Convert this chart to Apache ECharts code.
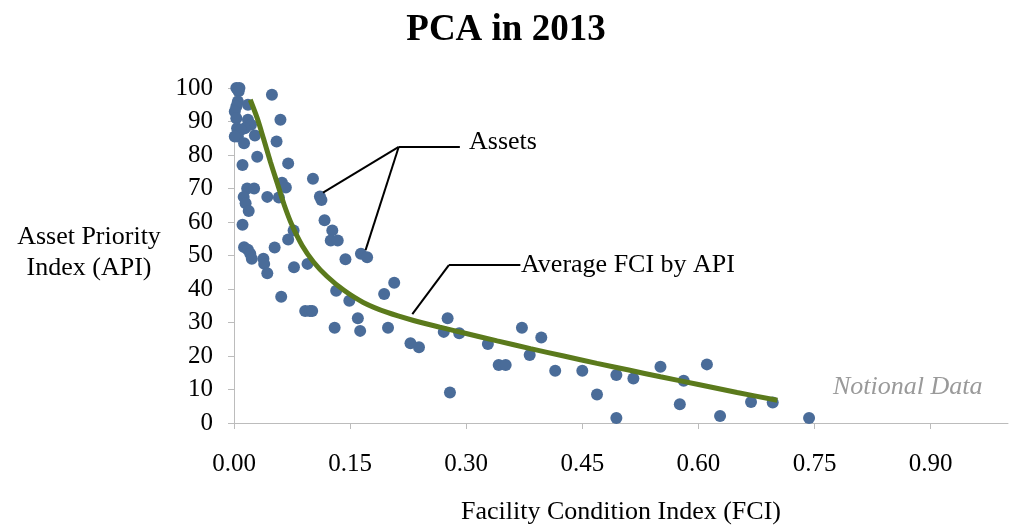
<!DOCTYPE html>
<html>
<head>
<meta charset="utf-8">
<title>PCA in 2013</title>
<script src="https://cdn.jsdelivr.net/npm/echarts@6/dist/echarts.min.js"></script>
<style>
    html, body { margin: 0; padding: 0; background: #fff; }
    #pca_chart { width: 1012px; height: 525px; }
</style>
</head>
<body>
<div id="pca_chart"></div>
<script>
// Chart data
// ------------------------------

// Assets: facility condition index (x) and asset priority index (y)
var assetFci = [
    0.003, 0.007, 0.006, 0.049, 0.005, 0.003, 0.018, 0.001, 0.003, 0.018,
    0.022, 0.014, 0.004, 0.009, 0.005, 0.027, 0.001, 0.013, 0.060, 0.055,
    0.030, 0.011, 0.070, 0.102, 0.111, 0.113, 0.062, 0.067, 0.043, 0.058,
    0.017, 0.026, 0.0125, 0.015, 0.019, 0.117, 0.127, 0.125, 0.134, 0.011,
    0.077, 0.070, 0.0525, 0.013, 0.018, 0.021, 0.023, 0.038, 0.039, 0.043,
    0.0775, 0.095, 0.061, 0.092, 0.098, 0.101, 0.130, 0.144, 0.164, 0.172,
    0.132, 0.149, 0.160, 0.163, 0.194, 0.207, 0.199, 0.228, 0.239, 0.276,
    0.271, 0.291, 0.279, 0.328, 0.342, 0.351, 0.372, 0.397, 0.382, 0.415,
    0.450, 0.469, 0.494, 0.516, 0.494, 0.551, 0.581, 0.611, 0.576, 0.628,
    0.668, 0.696, 0.743
];
var assetApi = [
    100, 100, 99, 98, 96, 94.5, 95, 93, 91, 90.5,
    89, 88, 88, 87.5, 85.5, 85.8, 85.5, 83.5, 90.5, 84,
    79.5, 77, 77.5, 72.9, 67.6, 66.6, 71.7, 70.3, 67.5, 67.3,
    70, 70, 67.5, 65.6, 63.3, 60.5, 57.5, 54.5, 54.5, 59.2,
    57.5, 54.8, 52.4, 52.5, 51.7, 50.5, 49, 49, 47.5, 44.7,
    46.5, 47.5, 37.7, 33.4, 33.4, 33.4, 28.4, 48.9, 50.5, 49.5,
    39.5, 36.5, 31.3, 27.5, 38.5, 41.9, 28.4, 23.8, 22.6, 31.3,
    27.2, 26.8, 9.1, 23.6, 17.3, 17.3, 28.4, 25.5, 20.3, 15.6,
    15.6, 8.5, 14.3, 13.3, 1.5, 16.8, 12.6, 17.5, 5.6, 2.1,
    6.3, 6.1, 1.5
];

// Average FCI by API (trend line)
var avgFci = [
    0.021, 0.030, 0.038, 0.047, 0.056, 0.065, 0.075, 0.088, 0.103, 0.120,
    0.142, 0.167, 0.198, 0.232, 0.266, 0.300, 0.340, 0.383, 0.426, 0.469,
    0.510, 0.551, 0.600, 0.650, 0.702
];
var avgApi = [
    96.5, 91.0, 85.0, 78.0, 71.5, 65.0, 59.0, 53.0, 48.0, 43.8,
    39.6, 36.0, 33.0, 30.6, 28.6, 26.7, 24.5, 22.2, 20.0, 17.8,
    15.8, 13.8, 11.5, 9.1, 6.8
];

// X axis tick values
var xTickValues = [0, 0.15, 0.30, 0.45, 0.60, 0.75, 0.90];


// Setup chart
// ------------------------------

var PcaScatter = function() {

    var _pcaChart = function() {
        if (typeof echarts == 'undefined') {
            console.warn('Warning - echarts.min.js is not loaded.');
            return;
        }

        var chart_element = document.getElementById('pca_chart');
        if (!chart_element) return;

        var chart = echarts.init(chart_element);

        var serif = '"Liberation Serif", "DejaVu Serif", serif';
        var axisGray = '#bcbcbc';

        var scatterData = assetFci.map(function(x, i) { return [x, assetApi[i]]; });
        var lineData = avgFci.map(function(x, i) { return [x, avgApi[i]]; });

        // Annotation arrows (elbow -> target)
        var arrowLines = [
            [{coord: [0.2128, 82.4], symbol: 'none'}, {coord: [0.2918, 82.4], symbol: 'none'}],
            [{coord: [0.2128, 82.4], symbol: 'none'}, {coord: [0.1150, 68.8]}],
            [{coord: [0.2128, 82.4], symbol: 'none'}, {coord: [0.1700, 51.6]}],
            [{coord: [0.2776, 47.1], symbol: 'none'}, {coord: [0.3700, 47.1], symbol: 'none'}],
            [{coord: [0.2776, 47.1], symbol: 'none'}, {coord: [0.2304, 32.5]}]
        ];

        chart.setOption({
            animation: false,
            textStyle: {
                fontFamily: serif
            },
            title: {
                text: 'PCA in 2013',
                left: 'center',
                top: 7,
                textStyle: {
                    fontFamily: serif,
                    fontSize: 37,
                    fontWeight: 'bold',
                    color: '#000'
                }
            },
            grid: {
                left: 234,
                right: 4,
                top: 88,
                bottom: 102,
                containLabel: false,
                outerBoundsMode: 'none'
            },
            xAxis: {
                type: 'value',
                min: 0,
                max: 1.0,
                name: 'Facility Condition Index (FCI)',
                nameLocation: 'middle',
                nameGap: 76,
                nameTextStyle: {
                    fontFamily: serif,
                    fontSize: 26,
                    color: '#000'
                },
                axisLine: { show: true, lineStyle: { color: axisGray, width: 1 } },
                axisTick: {
                    show: true,
                    inside: false,
                    length: 6,
                    customValues: xTickValues,
                    lineStyle: { color: axisGray }
                },
                axisLabel: {
                    customValues: xTickValues,
                    margin: 29,
                    fontFamily: serif,
                    fontSize: 25,
                    color: '#000',
                    formatter: function(v) { return v.toFixed(2); }
                },
                splitLine: { show: false }
            },
            yAxis: {
                type: 'value',
                min: 0,
                max: 100,
                interval: 10,
                axisLine: { show: true, lineStyle: { color: axisGray, width: 1 } },
                axisTick: {
                    show: true,
                    inside: false,
                    length: 6,
                    lineStyle: { color: axisGray }
                },
                axisLabel: {
                    margin: 21,
                    fontFamily: serif,
                    fontSize: 25,
                    color: '#000'
                },
                splitLine: { show: false }
            },
            graphic: [
                {
                    type: 'text',
                    x: 89,
                    y: 222,
                    style: {
                        text: 'Asset Priority\nIndex (API)',
                        fontFamily: serif,
                        fontSize: 26,
                        lineHeight: 31,
                        align: 'center',
                        verticalAlign: 'top',
                        fill: '#000'
                    }
                },
                {
                    type: 'text',
                    left: 469,
                    top: 129,
                    style: {
                        text: 'Assets',
                        fontFamily: serif,
                        fontSize: 26,
                        fill: '#000'
                    }
                },
                {
                    type: 'text',
                    left: 521,
                    top: 252,
                    style: {
                        text: 'Average FCI by API',
                        fontFamily: serif,
                        fontSize: 26,
                        fill: '#000'
                    }
                },
                {
                    type: 'text',
                    left: 833,
                    top: 374,
                    style: {
                        text: 'Notional Data',
                        fontFamily: serif,
                        fontSize: 26,
                        fontStyle: 'italic',
                        fill: '#9a9a9a'
                    }
                }
            ],
            series: [
                {
                    name: 'Assets',
                    type: 'scatter',
                    symbolSize: 12,
                    itemStyle: { color: '#4a6c99', opacity: 1 },
                    data: scatterData,
                    markLine: {
                        silent: true,
                        symbol: ['none', 'arrow'],
                        symbolSize: [0, 11],
                        label: { show: false },
                        lineStyle: { color: '#000', width: 2, type: 'solid' },
                        emphasis: { disabled: true },
                        data: arrowLines
                    },
                    z: 2
                },
                {
                    name: 'Average FCI by API',
                    type: 'line',
                    data: lineData,
                    smooth: 0.3,
                    showSymbol: false,
                    symbol: 'none',
                    lineStyle: { color: '#5b7a1c', width: 5 },
                    z: 3
                }
            ]
        });

        // Resize chart
        window.addEventListener('resize', function() {
            chart.resize();
        });
    };

    return {
        init: function() {
            _pcaChart();
        }
    }
}();

document.addEventListener('DOMContentLoaded', function() {
    PcaScatter.init();
});
</script>
</body>
</html>
